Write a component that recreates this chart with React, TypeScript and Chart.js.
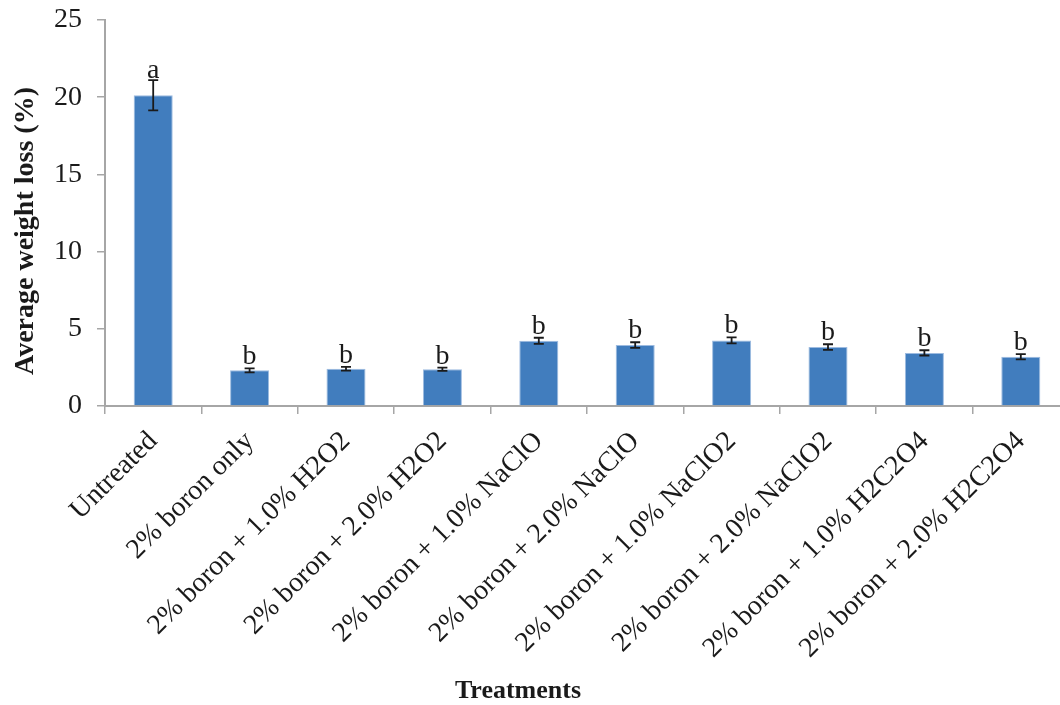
import React, { useEffect, useRef } from "react";
import { Chart, registerables } from "chart.js";

Chart.register(...registerables);

const categories = [
  "Untreated",
  "2% boron only",
  "2% boron + 1.0% H2O2",
  "2% boron + 2.0% H2O2",
  "2% boron + 1.0% NaClO",
  "2% boron + 2.0% NaClO",
  "2% boron + 1.0% NaClO2",
  "2% boron + 2.0% NaClO2",
  "2% boron + 1.0% H2C2O4",
  "2% boron + 2.0% H2C2O4",
];
const values = [20.13, 2.31, 2.41, 2.38, 4.22, 3.95, 4.25, 3.82, 3.44, 3.19];
const errors = [0.98, 0.13, 0.12, 0.1, 0.2, 0.18, 0.2, 0.18, 0.17, 0.17];
const letters = ["a", "b", "b", "b", "b", "b", "b", "b", "b", "b"];
const yMin = 0;
const yMax = 25;
const yStep = 5;
const yTitle = "Average weight loss (%)";
const xTitle = "Treatments";

const SERIF = "'Liberation Serif', 'Times New Roman', serif";

export default function App() {
  const ref = useRef<HTMLCanvasElement | null>(null);

  useEffect(() => {
    document.body.style.margin = "0";
    const canvas = ref.current;
    if (!canvas) return;

    const errorPlugin = {
      id: "errorBars",
      afterDatasetsDraw(chart: any) {
        const ctx = chart.ctx;
        const meta = chart.getDatasetMeta(0);
        const ys = chart.scales.y;
        ctx.save();
        meta.data.forEach((el: any, i: number) => {
          const x = el.x;
          const top = ys.getPixelForValue(values[i] + errors[i]);
          const bot = ys.getPixelForValue(values[i] - errors[i]);
          ctx.strokeStyle = "#1a1a1a";
          ctx.lineWidth = 1.8;
          ctx.beginPath();
          ctx.moveTo(x, top);
          ctx.lineTo(x, bot);
          ctx.moveTo(x - 5, top);
          ctx.lineTo(x + 5, top);
          ctx.moveTo(x - 5, bot);
          ctx.lineTo(x + 5, bot);
          ctx.stroke();
          ctx.fillStyle = "#1a1a1a";
          ctx.font = `28px ${SERIF}`;
          ctx.textAlign = "center";
          ctx.textBaseline = "alphabetic";
          ctx.fillText(letters[i], x, top - (i === 0 ? 2 : 4));
        });
        // axis titles
        ctx.fillStyle = "#1a1a1a";
        ctx.font = `bold 26px ${SERIF}`;
        ctx.textAlign = "center";
        ctx.textBaseline = "middle";
        ctx.fillText(xTitle, 518, 691);
        ctx.save();
        ctx.translate(26, 231);
        ctx.rotate(-Math.PI / 2);
        ctx.font = `bold 28px ${SERIF}`;
        ctx.fillText(yTitle, 0, 0);
        ctx.restore();
        ctx.restore();
      },
    };

    const chart = new Chart(canvas, {
      type: "bar",
      data: {
        labels: categories,
        datasets: [
          {
            data: values,
            backgroundColor: "#417DBE",
            borderColor: "#9DBBE0",
            borderWidth: 1,
            barPercentage: 0.405,
            categoryPercentage: 1,
          },
        ],
      },
      options: {
        responsive: false,
        animation: false,
        layout: { padding: { top: 20, right: 1, left: 0, bottom: 0 } },
        plugins: {
          legend: { display: false },
          tooltip: { enabled: false },
        },
        scales: {
          x: {
            grid: {
              display: true,
              drawOnChartArea: false,
              drawTicks: true,
              tickLength: 8,
              color: "#A6A6A6",
              lineWidth: 1.5,
              offset: true,
            },
            border: { color: "#A6A6A6", width: 2 },
            ticks: {
              minRotation: 45,
              maxRotation: 45,
              autoSkip: false,
              padding: 11,
              color: "#1a1a1a",
              font: { family: SERIF, size: 28 },
            },
            afterFit(scale: any) {
              scale.height = 299;
              scale.paddingLeft = 0;
              scale.paddingRight = 0;
            },
          },
          y: {
            min: yMin,
            max: yMax,
            grid: {
              display: true,
              drawOnChartArea: false,
              drawTicks: true,
              tickLength: 8,
              color: "#A6A6A6",
              lineWidth: 1.5,
            },
            border: { color: "#A6A6A6", width: 2 },
            ticks: {
              stepSize: yStep,
              padding: 15,
              color: "#1a1a1a",
              font: { family: SERIF, size: 28 },
            },
            afterFit(scale: any) {
              scale.width = 105;
              scale.paddingTop = 0;
              scale.paddingBottom = 0;
            },
          },
        },
      },
      plugins: [errorPlugin],
    });

    return () => chart.destroy();
  }, []);

  return (
    <div style={{ position: "relative", width: 1060, height: 705, overflow: "hidden" }}>
      <canvas ref={ref} width={1070} height={705} style={{ width: 1070, height: 705, display: "block" }} />
    </div>
  );
}
